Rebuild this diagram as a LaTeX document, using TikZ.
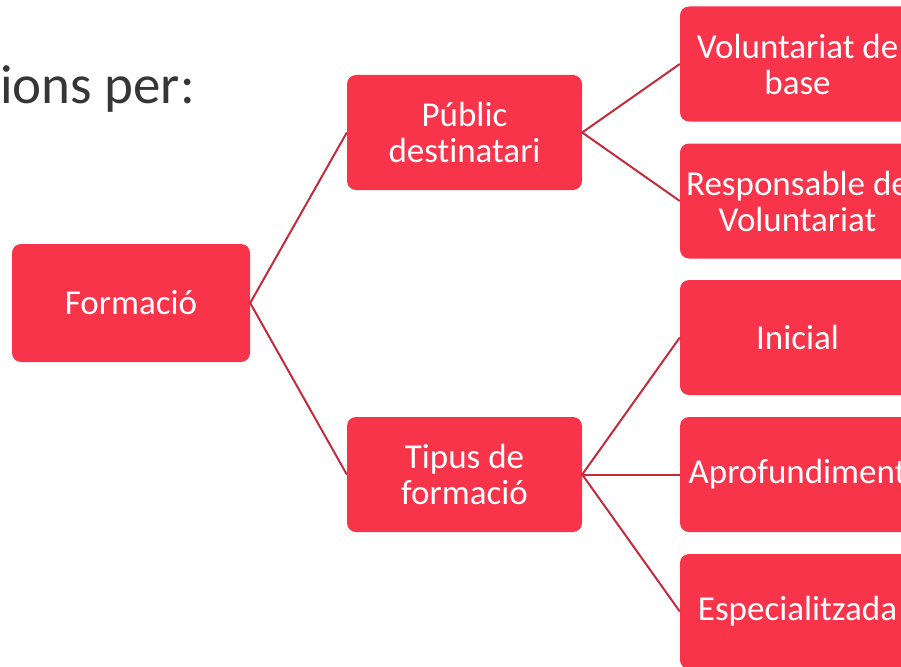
\documentclass[tikz,border=0pt]{standalone}
\usepackage{fontspec}
\setmainfont[Ligatures=NoCommon]{Carlito}
\definecolor{boxred}{HTML}{F8344B}
\definecolor{linered}{HTML}{C42A3C}
\definecolor{titlegray}{HTML}{363636}
\begin{document}
\begin{tikzpicture}[x=1pt,y=-1pt,
  box/.style={draw=none,fill=boxred,rounded corners=9pt,minimum width=235pt,minimum height=115pt,inner sep=0pt,align=center,text=white,font=\fontsize{35}{36}\selectfont},
  link/.style={draw=linered,line width=2pt}]
\useasboundingbox (0,0) rectangle (901,666);
\clip (0,0) rectangle (901,666);
\node[anchor=base west,text=titlegray,font=\fontsize{55}{60}\selectfont,inner sep=0pt] (title) at (0,104) {ions per:};
\node[box,minimum width=238pt,minimum height=118pt] (f) at (131,303) {Formació};
\node[box] (p) at (464.5,132.5) {Públic\\destinatari};
\node[box] (t) at (464.5,474.5) {Tipus de\\formació};
\node[box] (v) at (797.5,64) {Voluntariat de\\base};
\node[box] (r) at (797.5,201) {Responsable de\\Voluntariat};
\node[box] (i) at (797.5,337.5) {Inicial};
\node[box] (a) at (797.5,474.5) {Aprofundiment};
\node[box] (e) at (797.5,611.5) {Especialitzada};
\draw[link] (p.west) -- (f.east) -- (t.west);
\draw[link] (v.west) -- (p.east) -- (r.west);
\draw[link] (i.west) -- (t.east) -- (e.west);
\draw[link] (t.east) -- (a.west);
\end{tikzpicture}
\end{document}
